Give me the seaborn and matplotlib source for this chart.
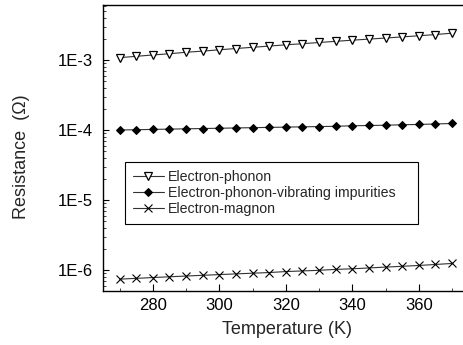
import numpy as np
import pandas as pd
import matplotlib
matplotlib.use("Agg")
import matplotlib.pyplot as plt
import seaborn as sns
from matplotlib.ticker import FuncFormatter, LogLocator, MultipleLocator

# temperature points (K)
temperature = [270, 275, 280, 285, 290, 295, 300, 305, 310, 315, 320,
               325, 330, 335, 340, 345, 350, 355, 360, 365, 370]

# resistance contributions (Ohm)
electron_phonon = [1.08e-3, 1.13e-3, 1.18e-3, 1.23e-3, 1.29e-3, 1.34e-3, 1.40e-3,
                   1.46e-3, 1.52e-3, 1.58e-3, 1.65e-3, 1.71e-3, 1.78e-3, 1.85e-3,
                   1.92e-3, 1.99e-3, 2.06e-3, 2.14e-3, 2.22e-3, 2.31e-3, 2.42e-3]
electron_phonon_imp = [1.00e-4, 1.01e-4, 1.02e-4, 1.03e-4, 1.04e-4, 1.05e-4, 1.06e-4,
                       1.07e-4, 1.08e-4, 1.09e-4, 1.10e-4, 1.11e-4, 1.12e-4, 1.13e-4,
                       1.15e-4, 1.16e-4, 1.17e-4, 1.19e-4, 1.20e-4, 1.22e-4, 1.24e-4]
electron_magnon = [0.74e-6, 0.76e-6, 0.78e-6, 0.80e-6, 0.82e-6, 0.84e-6, 0.86e-6,
                   0.88e-6, 0.90e-6, 0.92e-6, 0.95e-6, 0.97e-6, 0.99e-6, 1.02e-6,
                   1.04e-6, 1.07e-6, 1.10e-6, 1.13e-6, 1.16e-6, 1.20e-6, 1.24e-6]

series_names = ["Electron-phonon", "Electron-phonon-vibrating impurities", "Electron-magnon"]

sns.set_style("ticks")
plt.rcParams["font.family"] = ["Liberation Sans", "DejaVu Sans"]
plt.rcParams["xtick.direction"] = "in"
plt.rcParams["ytick.direction"] = "in"

fig = plt.figure(figsize=(4.63, 3.45), dpi=100)
ax = fig.add_axes([103 / 463, 54 / 345, 367 / 463, 286 / 345])

styles = [
    dict(marker="v", markerfacecolor="white", markeredgecolor="black", markersize=5.5, markeredgewidth=0.9),
    dict(marker="D", markerfacecolor="black", markeredgecolor="black", markersize=4.5),
    dict(marker="x", markeredgecolor="black", markersize=5.5, markeredgewidth=0.8),
]
for name, vals, st in zip(series_names, [electron_phonon, electron_phonon_imp, electron_magnon], styles):
    df = pd.DataFrame({"T": temperature, "R": vals})
    sns.lineplot(data=df, x="T", y="R", ax=ax, color="#333333", linewidth=0.8,
                 label=name, **st)

ax.set_yscale("log")
ax.set_xlim(265, 375.4)
ax.set_ylim(10 ** -6.3, 10 ** -2.214)

ax.xaxis.set_major_locator(MultipleLocator(20))
ax.xaxis.set_minor_locator(MultipleLocator(10))
ax.yaxis.set_major_locator(LogLocator(base=10))
ax.yaxis.set_minor_locator(LogLocator(base=10, subs=np.arange(2, 10)))
ax.yaxis.set_major_formatter(FuncFormatter(lambda v, p: f"1E{int(round(np.log10(v)))}"))
ax.yaxis.set_minor_formatter(FuncFormatter(lambda v, p: ""))

ax.tick_params(which="major", length=4, width=0.8, labelsize=12, colors="black")
ax.tick_params(axis="y", which="major", pad=7)
ax.tick_params(axis="x", which="major", length=5, pad=5)
ax.tick_params(which="minor", length=2, width=0.6)

for s in ["left", "bottom", "top"]:
    ax.spines[s].set_linewidth(1.0)
    ax.spines[s].set_color("black")
ax.spines["right"].set_visible(False)

ax.set_xlabel("Temperature (K)", fontsize=13, labelpad=6)
ax.set_ylabel("Resistance  (\u03a9)", fontsize=13)
ax.yaxis.set_label_coords(-0.199, 0.47)

leg = ax.legend(loc="upper left",
                bbox_to_anchor=(125 / 463, 1 - 227 / 345, 293 / 463, 65 / 345),
                bbox_transform=fig.transFigure, mode="expand", fontsize=10.2,
                frameon=True, fancybox=False, edgecolor="black", framealpha=1,
                handlelength=2.2, handletextpad=0.25, borderpad=0.55,
                labelspacing=0.15, borderaxespad=0)
leg.get_frame().set_linewidth(0.8)

fig.savefig("out.png", dpi=100)
